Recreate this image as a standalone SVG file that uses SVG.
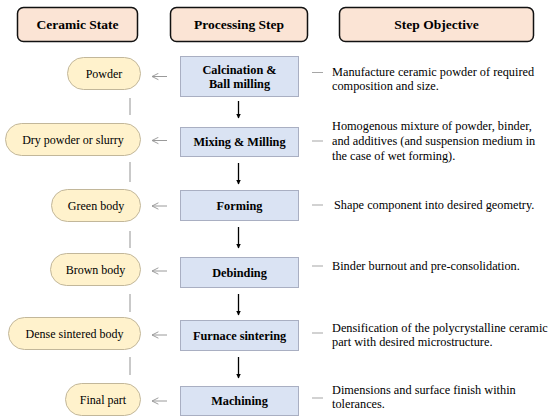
<svg xmlns="http://www.w3.org/2000/svg" width="550" height="420" viewBox="0 0 550 420">
<defs>
<marker id="blk" viewBox="0 0 10 10" refX="9" refY="5" markerWidth="5" markerHeight="5" orient="auto" markerUnits="userSpaceOnUse">
<path d="M0,0 L10,5 L0,10 z" fill="#000"/>
</marker>
<marker id="gry" viewBox="0 0 10 10" refX="9" refY="5" markerWidth="8" markerHeight="8" orient="auto" markerUnits="userSpaceOnUse">
<path d="M1,1 L9,5 L1,9" fill="none" stroke="#9a9a9a" stroke-width="1.2"/>
</marker>
</defs>
<style>
text{font-family:"Liberation Serif","DejaVu Serif",serif;fill:#000}
.hd{fill:#FBE4D5;stroke:#111;stroke-width:1.5}
.hdt{font-size:13.5px;font-weight:bold;text-anchor:middle}
.pill{fill:#FFF2CC;stroke:#C2B79A;stroke-width:1}
.pt{font-size:12px;text-anchor:middle}
.box{fill:#DAE3F3;stroke:#A9AFC2;stroke-width:1}
.bt{font-size:12.3px;font-weight:bold;text-anchor:middle}
.ot{font-size:12.3px}
.gl{stroke:#a6a6a6;stroke-width:1.2;fill:none}
.ga{stroke:#9a9a9a;stroke-width:1;fill:none}
.ba{stroke:#000;stroke-width:1.3;fill:none}
</style>
<rect width="550" height="420" fill="#fff"/>
<g id="headers">
<rect class="hd" x="17.5" y="7.5" width="120" height="34" rx="6"/>
<text class="hdt" x="77.5" y="29">Ceramic State</text>
<rect class="hd" x="170.5" y="7.5" width="137" height="34" rx="6"/>
<text class="hdt" x="239" y="29">Processing Step</text>
<rect class="hd" x="339.5" y="7.5" width="194" height="34" rx="6"/>
<text class="hdt" x="436.5" y="29">Step Objective</text>
</g>
<g id="state1"><rect class="pill" x="67.5" y="57.5" width="73" height="32" rx="16"/><text class="pt" x="104" y="77.5">Powder</text></g>
<g id="state2"><rect class="pill" x="5.5" y="123.5" width="135" height="32" rx="16"/><text class="pt" x="73" y="143.5">Dry powder or slurry</text></g>
<g id="state3"><rect class="pill" x="51.5" y="189.5" width="89" height="32" rx="16"/><text class="pt" x="96" y="209.5">Green body</text></g>
<g id="state4"><rect class="pill" x="50.5" y="253.5" width="90" height="32" rx="16"/><text class="pt" x="95.5" y="273.5">Brown body</text></g>
<g id="state5"><rect class="pill" x="8.5" y="317.5" width="132" height="32" rx="16"/><text class="pt" x="74.5" y="337.5">Dense sintered body</text></g>
<g id="state6"><rect class="pill" x="65.5" y="383.5" width="75" height="32" rx="16"/><text class="pt" x="103" y="403.5">Final part</text></g>
<g id="step1"><rect class="box" x="180.5" y="56.5" width="118" height="40"/><text class="bt" x="239.5" y="74">Calcination &amp;</text><text class="bt" x="239.5" y="88">Ball milling</text></g>
<g id="step2"><rect class="box" x="180.5" y="127.5" width="118" height="29"/><text class="bt" x="239.5" y="146">Mixing &amp; Milling</text></g>
<g id="step3"><rect class="box" x="180.5" y="190.5" width="118" height="30"/><text class="bt" x="239.5" y="209.5">Forming</text></g>
<g id="step4"><rect class="box" x="180.5" y="257.5" width="118" height="30"/><text class="bt" x="239.5" y="276.5">Debinding</text></g>
<g id="step5"><rect class="box" x="180.5" y="320.5" width="118" height="30"/><text class="bt" x="239.5" y="339.5">Furnace sintering</text></g>
<g id="step6"><rect class="box" x="180.5" y="386.5" width="118" height="29"/><text class="bt" x="239.5" y="405">Machining</text></g>
<g id="obj1"><text class="ot" x="332" y="76">Manufacture ceramic powder of required</text><text class="ot" x="332" y="90">composition and size.</text></g>
<g id="obj2"><text class="ot" x="332" y="130">Homogenous mixture of powder, binder,</text><text class="ot" x="332" y="145">and additives (and suspension medium in</text><text class="ot" x="332" y="160">the case of wet forming).</text></g>
<g id="obj3"><text class="ot" x="334" y="209">Shape component into desired geometry.</text></g>
<g id="obj4"><text class="ot" x="332" y="269.5">Binder burnout and pre-consolidation.</text></g>
<g id="obj5"><text class="ot" x="332" y="332">Densification of the polycrystalline ceramic</text><text class="ot" x="332" y="346">part with desired microstructure.</text></g>
<g id="obj6"><text class="ot" x="332" y="394">Dimensions and surface finish within</text><text class="ot" x="332" y="408">tolerances.</text></g>
<g id="connectors">
<path class="ba" d="M238.5,101 V118" marker-end="url(#blk)"/>
<path class="ba" d="M238.5,163 V184" marker-end="url(#blk)"/>
<path class="ba" d="M238.5,227 V248" marker-end="url(#blk)"/>
<path class="ba" d="M238.5,294 V315" marker-end="url(#blk)"/>
<path class="ba" d="M238.5,357 V378" marker-end="url(#blk)"/>
<path class="ga" d="M167,76.5 H152" marker-end="url(#gry)"/>
<path class="ga" d="M167,140.5 H152" marker-end="url(#gry)"/>
<path class="ga" d="M167,206 H152" marker-end="url(#gry)"/>
<path class="ga" d="M167,271 H152" marker-end="url(#gry)"/>
<path class="ga" d="M167,335 H152" marker-end="url(#gry)"/>
<path class="ga" d="M167,401 H152" marker-end="url(#gry)"/>
<path class="gl" d="M130,98 V115 M130,162 V182 M130,231 V248 M130,294 V312 M130,357 V375"/>
<path class="gl" d="M312,72.5 H323 M312,141 H323 M312,205 H323 M312,266 H323 M312,333 H323 M312,398 H323"/>
</g>
</svg>
